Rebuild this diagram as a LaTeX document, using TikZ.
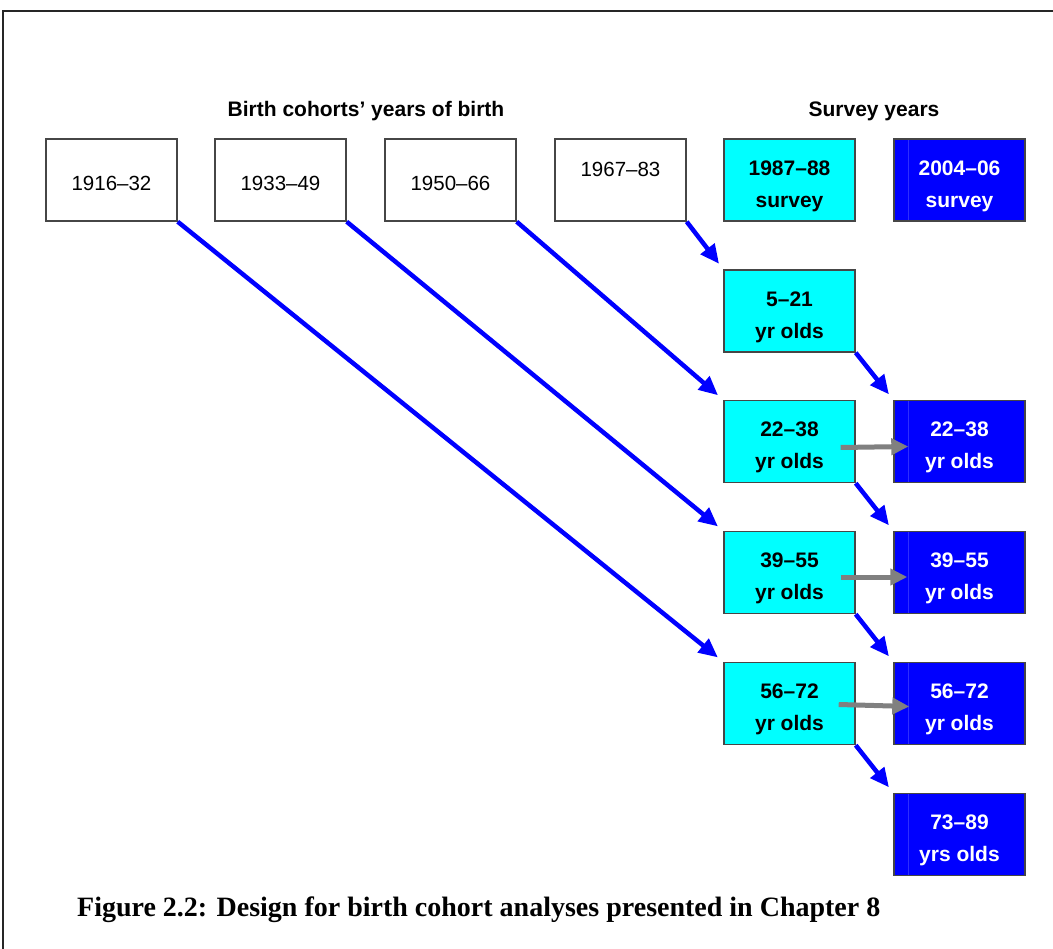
\documentclass[tikz,border=0pt]{standalone}
\usepackage{fontspec}
\setmainfont{Liberation Serif}
\setsansfont{Liberation Sans}
\usetikzlibrary{arrows.meta}

\definecolor{boxline}{RGB}{70,70,70}
\definecolor{survcyan}{RGB}{0,255,255}
\definecolor{survblue}{RGB}{0,0,255}
\definecolor{stripe}{RGB}{45,45,255}

% Abstand ueber der ersten Zeile
\newcommand{\toprule}[1]{\rule{0pt}{#1}}

\tikzset{
  yearbox/.style={draw=boxline, line width=1.4pt, fill=white, minimum width=131pt,
    minimum height=82pt, inner sep=0pt, align=center,
    font=\sffamily\fontsize{20.5}{32}\selectfont},
  firstbox/.style={yearbox, fill=survcyan, font=\sffamily\bfseries\fontsize{21}{32}\selectfont},
  secondbox/.style={yearbox, fill=survblue, text=white, font=\sffamily\bfseries\fontsize{21}{32}\selectfont,
    path picture={\draw[stripe, line width=1pt] ([xshift=14pt]path picture bounding box.north west)
      -- ([xshift=14pt]path picture bounding box.south west);}},
  cohortarrow/.style={survblue, line width=4.5pt, shorten >=7pt,
    -{Triangle[length=19pt, width=17pt]}},
  samearrow/.style={gray, line width=5pt, -{Triangle[length=17pt, width=16pt]}},
  heading/.style={anchor=base, inner sep=0pt, font=\sffamily\bfseries\fontsize{21}{24}\selectfont}
}

\begin{document}
\begin{tikzpicture}[x=1pt, y=-1pt]
  \useasboundingbox (0,0) rectangle (1053,949);

  % Rahmen
  \draw[black!85, line width=1.3pt] (3,949) -- (3,11) -- (1053,11);

  % Ueberschriften
  \node[heading] (headcohort) at (366,117) {Birth cohorts’ years of birth};
  \node[heading] (headsurvey) at (874,117) {Survey years};

  % Geburtskohorten
  \node[yearbox] (c16) at (111.5,180) {\toprule{21pt}1916–32};
  \node[yearbox] (c33) at (280.5,180) {\toprule{21pt}1933–49};
  \node[yearbox] (c50) at (450.5,180) {\toprule{21pt}1950–66};
  \node[yearbox] (c67) at (620.5,180) {\toprule{25pt}1967–83\\\mbox{}};

  % Erhebungen
  \node[firstbox] (s87) at (789.5,180) {\toprule{27pt}1987–88\\survey};
  \node[secondbox] (s04) at (959.5,180) {\toprule{27pt}2004–06\\survey};

  % Altersgruppen 1987--88
  \node[firstbox] (a05) at (789.5,311) {\toprule{27pt}5–21\\yr olds};
  \node[firstbox] (a22) at (789.5,441.5) {\toprule{27pt}22–38\\yr olds};
  \node[firstbox] (a39) at (789.5,572.5) {\toprule{27pt}39–55\\yr olds};
  \node[firstbox] (a56) at (789.5,703.5) {\toprule{27pt}56–72\\yr olds};

  % Altersgruppen 2004--06
  \node[secondbox] (b22) at (959.5,441.5) {\toprule{27pt}22–38\\yr olds};
  \node[secondbox] (b39) at (959.5,572.5) {\toprule{27pt}39–55\\yr olds};
  \node[secondbox] (b56) at (959.5,703.5) {\toprule{27pt}56–72\\yr olds};
  \node[secondbox] (b73) at (959.5,834.5) {\toprule{27pt}73–89\\yrs olds};

  % Pfeile Kohorte -> 1987--88
  \draw[cohortarrow] (c16.south east) -- (a56.north west);
  \draw[cohortarrow] (c33.south east) -- (a39.north west);
  \draw[cohortarrow] (c50.south east) -- (a22.north west);
  \draw[cohortarrow] (c67.south east) -- (a05.north west);

  % Pfeile 1987--88 -> 2004--06
  \draw[cohortarrow] (a05.south east) -- (b22.north west);
  \draw[cohortarrow] (a22.south east) -- (b39.north west);
  \draw[cohortarrow] (a39.south east) -- (b56.north west);
  \draw[cohortarrow] (a56.south east) -- (b73.north west);

  % gleiche Altersgruppe
  \draw[samearrow] ([xshift=-15pt, yshift=-6pt]a22.east) -- ([xshift=15pt, yshift=-5pt]b22.west);
  \draw[samearrow] ([xshift=-15pt, yshift=-4.5pt]a39.east) -- ([xshift=14pt, yshift=-4.5pt]b39.west);
  \draw[samearrow] ([xshift=-17pt, yshift=-1pt]a56.east) -- ([xshift=16pt, yshift=-3pt]b56.west);

  % Bildunterschrift
  \node[anchor=base west, inner sep=0pt, font=\bfseries\fontsize{28}{32}\selectfont] (caption)
    at (77,916) {Figure 2.2: Design for birth cohort analyses presented in Chapter 8};
\end{tikzpicture}
\end{document}
